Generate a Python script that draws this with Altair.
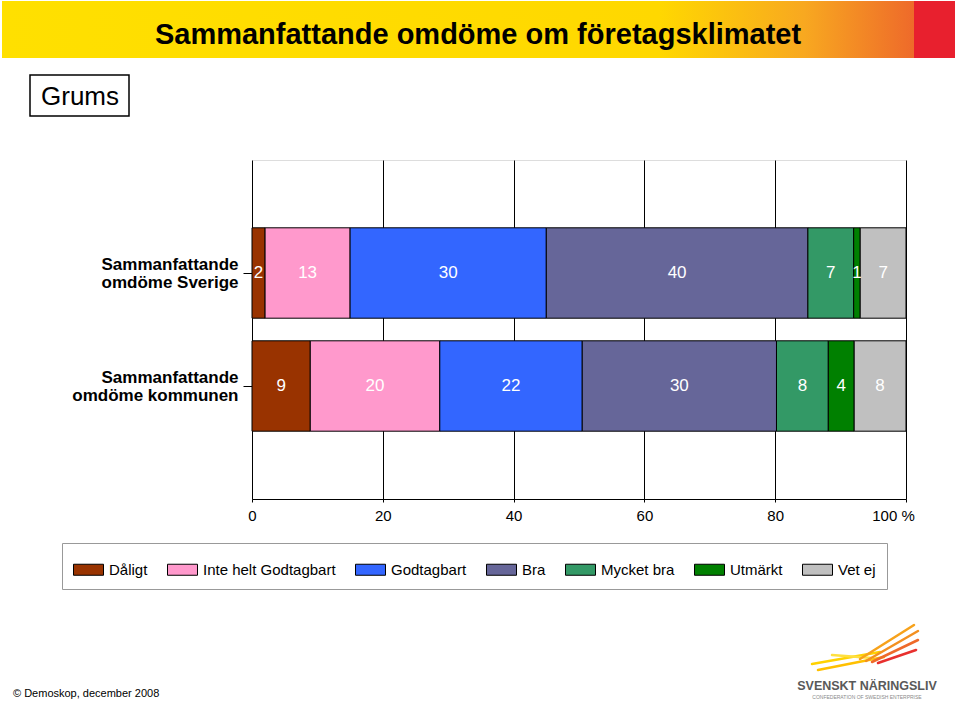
import altair as alt
import pandas as pd

categories = ["Dåligt", "Inte helt Godtagbart", "Godtagbart", "Bra", "Mycket bra", "Utmärkt", "Vet ej"]
colors = ["#993300", "#FF99CC", "#3366FF", "#666699", "#339966", "#008000", "#C0C0C0"]
rows = ["Sammanfattande omdöme Sverige", "Sammanfattande omdöme kommunen"]
sverige = [2, 13, 30, 40, 7, 1, 7]
kommunen = [9, 20, 22, 30, 8, 4, 8]
x_ticks = [0, 20, 40, 60, 80, 100]

records = []
for r, vals in zip(rows, [sverige, kommunen]):
    for i, (c, v) in enumerate(zip(categories, vals)):
        records.append({"row": r, "cat": c, "order": i, "value": v})
df = pd.DataFrame(records)

W, H = 654, 339
L, T = 252, 160
FONT = "Liberation Sans"

base = alt.Chart(df).transform_stack(
    stack="value", groupby=["row"], as_=["x0", "x1"], offset="normalize",
    sort=[alt.SortField("order", "ascending")]
).transform_calculate(mid="(datum.x0 + datum.x1) / 2")

x_axis = alt.Axis(
    values=[v / 100 for v in x_ticks], grid=True, gridColor="black", gridWidth=1, gridOpacity=1,
    domainColor="black", tickColor="black", tickSize=3, labelFontSize=15, labelFont=FONT,
    labelColor="black", labelPadding=6, title=None, labelFlush=False, labelOverlap=False,
    labelExpr="datum.value >= 0.999 ? '100 %' : format(datum.value * 100, 'd')",
    labelOffset={"condition": {"test": "datum.value >= 0.999", "value": -13}, "value": 0},
)
y_axis = alt.Axis(
    title=None, domain=False, ticks=True, tickColor="black", tickSize=9, labelFontWeight="bold",
    labelFontSize=17, labelFont=FONT, labelColor="black", labelPadding=5, labelLineHeight=18,
    labelOffset=-8,
    labelExpr="[slice(datum.label, 0, 14), slice(datum.label, 15)]", labelLimit=400, grid=False,
)
y_enc = alt.Y("row:N", sort=rows, scale=alt.Scale(paddingInner=0.2, paddingOuter=0.6), axis=y_axis)

bars = base.mark_bar(stroke="black", strokeWidth=1).encode(
    x=alt.X("x0:Q", scale=alt.Scale(domain=[0, 1]), axis=x_axis),
    x2="x1:Q",
    y=y_enc,
    color=alt.Color(
        "cat:N", scale=alt.Scale(domain=categories, range=colors),
        legend=alt.Legend(
            title=None, orient="none", legendX=-190, legendY=383, direction="horizontal", columns=7,
            symbolType="M-1,-0.367L1,-0.367L1,0.367L-1,0.367Z", symbolSize=900,
            symbolStrokeColor="black", symbolStrokeWidth=1, symbolOpacity=1,
            labelFont=FONT, labelFontSize=15, labelColor="black", labelOffset=5,
            columnPadding=17, padding=11, strokeColor="#999999", fillColor="white", labelLimit=300,
        ),
    ),
)

labels = base.mark_text(color="white", fontSize=17, font=FONT).encode(
    x=alt.X("mid:Q"),
    y=alt.Y("row:N", sort=rows),
    text="value:Q",
)

dummy = alt.Chart(pd.DataFrame({"d": [0]}))

banner = dummy.mark_rect(
    fill=alt.LinearGradient(
        gradient="linear", x1=0, x2=1, y1=0, y2=0,
        stops=[
            alt.GradientStop(offset=0, color="#FFE000"),
            alt.GradientStop(offset=0.72, color="#FFD800"),
            alt.GradientStop(offset=0.88, color="#F8A820"),
            alt.GradientStop(offset=1, color="#EE6A2A"),
        ],
    )
).encode(x=alt.value(2 - L), x2=alt.value(914 - L), y=alt.value(1 - T), y2=alt.value(58 - T))

banner_red = dummy.mark_rect(fill="#E8202E").encode(
    x=alt.value(914 - L), x2=alt.value(955 - L), y=alt.value(1 - T), y2=alt.value(58 - T))

title = dummy.mark_text(
    text="Sammanfattande omdöme om företagsklimatet", font=FONT,
    fontWeight="bold", fontSize=29, align="center", baseline="middle", color="black",
).encode(x=alt.value(478 - L), y=alt.value(35 - T))

grums_box = dummy.mark_rect(fill="white", stroke="black", strokeWidth=1.5).encode(
    x=alt.value(30 - L), x2=alt.value(129 - L), y=alt.value(75 - T), y2=alt.value(116 - T))
grums_text = dummy.mark_text(
    text="Grums", font=FONT, fontSize=26, align="center", baseline="middle", color="black"
).encode(x=alt.value(80 - L), y=alt.value(97 - T))

footer = dummy.mark_text(
    text="© Demoskop, december 2008", font=FONT, fontSize=11, align="left", baseline="middle", color="black"
).encode(x=alt.value(13 - L), y=alt.value(694 - T))

logo_text = dummy.mark_text(
    text="SVENSKT NÄRINGSLIV", font=FONT, fontWeight="bold", fontSize=12.5, align="center",
    baseline="middle", color="#595959"
).encode(x=alt.value(867 - L), y=alt.value(686 - T))
logo_sub = dummy.mark_text(
    text="CONFEDERATION OF SWEDISH ENTERPRISE", font=FONT, fontSize=5, align="center",
    baseline="middle", color="#8a8a8a"
).encode(x=alt.value(867 - L), y=alt.value(697 - T))

feathers = [
    (812, 664, 880, 652, "#FFD200"),
    (818, 670, 884, 657, "#FFC000"),
    (832, 655, 872, 658, "#FFE040"),
    (860, 659, 914, 625, "#F7A21B"),
    (866, 661, 918, 631, "#F39020"),
    (872, 662, 918, 640, "#EE6A2A"),
    (878, 663, 916, 650, "#E8302E"),
]
wing = [
    dummy.mark_rule(color=c, strokeWidth=2.5, strokeCap="round").encode(
        x=alt.value(a - L), y=alt.value(b - T), x2=alt.value(cc - L), y2=alt.value(d - T))
    for a, b, cc, d, c in feathers
]

chart = alt.layer(
    banner, banner_red, title, grums_box, grums_text, bars, labels, footer, logo_text, logo_sub, *wing
).properties(
    width=W, height=H, autosize="none",
    padding={"left": L, "top": T, "right": 960 - L - W, "bottom": 702 - T - H},
).configure_view(stroke=None).configure(background="white")

chart.save("out.html", embed_options={"renderer": "svg", "actions": False})
